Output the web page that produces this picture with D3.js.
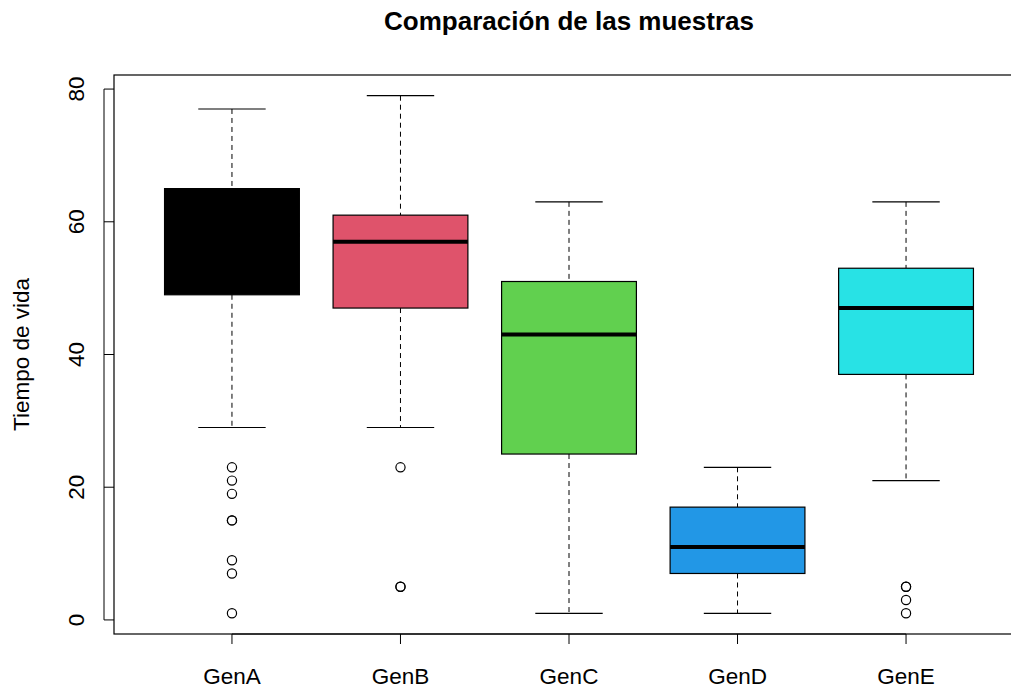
<!DOCTYPE html>
<html>
<head>
<meta charset="utf-8">
<script src="https://cdn.jsdelivr.net/npm/d3@7"></script>
<style>
  body { margin: 0; background: #fff; }
  svg text { font-family: "Liberation Sans", Arial, sans-serif; }
</style>
</head>
<body>
<div id="plot"></div>
<script>
const genes = ["GenA", "GenB", "GenC", "GenD", "GenE"],
    colors = ["#000000", "#DF536B", "#61D04F", "#2297E6", "#28E2E5"],
    lowWhisker = [29, 29, 1, 1, 21],
    q1 = [49, 47, 25, 7, 37],
    median = [58, 57, 43, 11, 47],
    q3 = [65, 61, 51, 17, 53],
    highWhisker = [77, 79, 63, 23, 63],
    outliers = [[23, 21, 19, 15, 15, 9, 7, 1], [23, 5, 5], [], [], [5, 5, 3, 1]],
    yTicks = [0, 20, 40, 60, 80]

const w = 1011, h = 688,
    plotTop = 75, plotBottom = 634,
    x = d3.scaleLinear().domain([0.3, 5.7]).range([114, 1024]),
    y = d3.scaleLinear().domain([-2.12, 82.12]).range([plotBottom, plotTop]),
    boxW = (x(1.4) - x(1)) , // half width of box (boxwex 0.8)
    capW = boxW / 2,
    axisFont = "22.5px"

const svg = d3.select("#plot").append("svg")
  .attr("width", w)
  .attr("height", h)

// title
svg.append("text")
  .attr("x", (x(0.3) + x(5.7)) / 2)
  .attr("y", 30)
  .attr("text-anchor", "middle")
  .style("font-size", "26px")
  .style("font-weight", "bold")
  .text("Comparación de las muestras")

// plot frame
svg.append("rect")
  .attr("x", x(0.3))
  .attr("y", plotTop)
  .attr("width", x(5.7) - x(0.3))
  .attr("height", plotBottom - plotTop)
  .attr("fill", "none")
  .attr("stroke", "#000")
  .attr("stroke-width", 1.2)

// y axis
const yAxis = svg.append("g")
  .attr("transform", `translate(${x(0.3) - 10}, 0)`)
yAxis.append("line")
  .attr("x1", 0).attr("x2", 0)
  .attr("y1", y(0)).attr("y2", y(80))
  .attr("stroke", "#000")
yAxis.selectAll(".tick")
  .data(yTicks)
  .join("line")
  .attr("x1", 0).attr("x2", 10)
  .attr("y1", d => y(d)).attr("y2", d => y(d))
  .attr("stroke", "#000")
yAxis.selectAll(".lab")
  .data(yTicks)
  .join("text")
  .attr("transform", d => `translate(-20, ${y(d)}) rotate(-90)`)
  .attr("text-anchor", "middle")
  .style("font-size", axisFont)
  .text(d => d)

svg.append("text")
  .attr("transform", `translate(29, ${(plotTop + plotBottom) / 2}) rotate(-90)`)
  .attr("text-anchor", "middle")
  .style("font-size", axisFont)
  .text("Tiempo de vida")

// x axis
const xAxis = svg.append("g")
  .attr("transform", `translate(0, ${plotBottom})`)
xAxis.append("line")
  .attr("x1", x(1)).attr("x2", x(5))
  .attr("y1", 0).attr("y2", 0)
  .attr("stroke", "#000")
xAxis.selectAll(".tick")
  .data(genes)
  .join("line")
  .attr("x1", (d, i) => x(i + 1)).attr("x2", (d, i) => x(i + 1))
  .attr("y1", 0).attr("y2", 10)
  .attr("stroke", "#000")
xAxis.selectAll(".lab")
  .data(genes)
  .join("text")
  .attr("x", (d, i) => x(i + 1))
  .attr("y", 50)
  .attr("text-anchor", "middle")
  .style("font-size", axisFont)
  .text(d => d)

// boxes
genes.forEach((g, i) => {
  const cx = x(i + 1),
      grp = svg.append("g")

  // dashed whiskers
  grp.append("line")
    .attr("x1", cx).attr("x2", cx)
    .attr("y1", y(highWhisker[i])).attr("y2", y(q3[i]))
    .attr("stroke", "#000")
    .attr("stroke-dasharray", "5,4")
  grp.append("line")
    .attr("x1", cx).attr("x2", cx)
    .attr("y1", y(q1[i])).attr("y2", y(lowWhisker[i]))
    .attr("stroke", "#000")
    .attr("stroke-dasharray", "5,4")

  // staples
  ;[highWhisker[i], lowWhisker[i]].forEach(v => {
    grp.append("line")
      .attr("x1", cx - capW).attr("x2", cx + capW)
      .attr("y1", y(v)).attr("y2", y(v))
      .attr("stroke", "#000")
      .attr("stroke-width", 1.2)
  })

  grp.append("rect")
    .attr("x", cx - boxW)
    .attr("y", y(q3[i]))
    .attr("width", 2 * boxW)
    .attr("height", y(q1[i]) - y(q3[i]))
    .attr("fill", colors[i])
    .attr("stroke", "#000")
    .attr("stroke-width", 1.2)

  grp.append("line")
    .attr("x1", cx - boxW).attr("x2", cx + boxW)
    .attr("y1", y(median[i])).attr("y2", y(median[i]))
    .attr("stroke", "#000")
    .attr("stroke-width", 4)

  grp.selectAll("circle")
    .data(outliers[i])
    .join("circle")
    .attr("cx", cx)
    .attr("cy", d => y(d))
    .attr("r", 4.6)
    .attr("fill", "none")
    .attr("stroke", "#000")
    .attr("stroke-width", 1.2)
})
</script>
</body>
</html>
